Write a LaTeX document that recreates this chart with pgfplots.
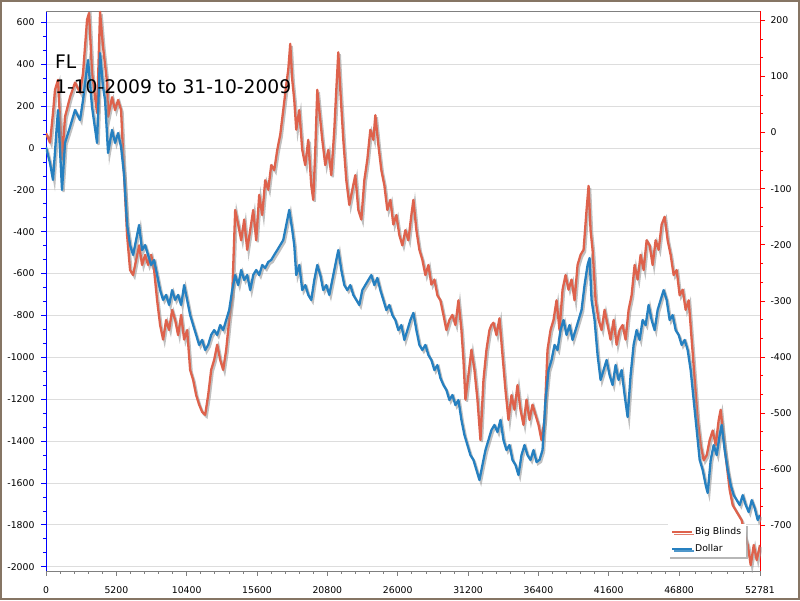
\documentclass[border=0pt]{standalone}
\usepackage{fontspec}
\setmainfont{DejaVu Sans}
\usepackage{pgfplots}
\pgfplotsset{compat=1.18}
\usepackage{pgfplotstable}
\usetikzlibrary{shadows}
\definecolor{bbred}{RGB}{222,98,76}
\definecolor{dblue}{RGB}{38,128,192}
\definecolor{framec}{RGB}{134,117,100}
\definecolor{gridc}{RGB}{221,221,221}
\definecolor{shad}{RGB}{150,150,150}

% Big Blinds (right axis)
\pgfplotstableread{
x y
0 -1
296 -18
518 35
666 76
888 94
1184 -48
1406 28
1776 63
2146 89
2516 71
2738 106
3034 201
3182 213
3404 106
3774 35
3996 215
4218 152
4514 89
4588 28
4884 63
5106 40
5328 58
5550 40
5772 -76
5994 -183
6216 -245
6438 -254
6660 -227
6882 -201
7104 -236
7326 -218
7548 -236
7770 -218
7992 -245
8214 -299
8436 -343
8658 -369
8880 -334
9102 -352
9324 -316
9546 -334
9768 -361
9990 -325
10212 -369
10434 -352
10656 -423
10878 -441
11100 -468
11322 -485
11544 -498
11766 -503
11988 -468
12210 -423
12432 -405
12654 -378
12876 -405
13098 -423
13320 -387
13542 -334
13764 -290
13986 -138
14208 -164
14430 -192
14652 -155
14874 -209
15096 -174
15318 -138
15540 -192
15762 -111
15984 -147
16206 -85
16428 -102
16650 -58
16872 -67
17094 -31
17316 -4
17538 40
17760 85
17908 112
18056 158
18204 94
18352 58
18500 5
18722 40
18944 -31
19166 -58
19388 -13
19610 -94
19758 -120
19906 -31
20054 76
20202 40
20424 -13
20646 -58
20868 -31
21090 -76
21312 5
21460 76
21608 143
21756 76
21978 -13
22200 -85
22422 -129
22644 -102
22866 -76
23088 -138
23310 -155
23532 -85
23754 -48
23976 5
24198 -13
24346 31
24568 -22
24790 -67
25012 -94
25234 -138
25456 -120
25678 -164
25900 -147
26122 -183
26344 -201
26566 -174
26788 -192
27010 -147
27158 -120
27380 -174
27602 -209
27824 -227
28046 -254
28268 -236
28490 -271
28712 -262
28934 -290
29156 -299
29378 -325
29600 -352
29822 -334
30044 -325
30266 -343
30488 -299
30710 -352
30858 -405
31006 -476
31228 -432
31450 -387
31672 -423
31894 -476
32116 -548
32338 -441
32560 -387
32782 -352
32930 -343
33078 -339
33300 -361
33522 -331
33744 -396
33966 -459
34188 -512
34410 -468
34632 -494
34854 -450
35076 -494
35298 -521
35520 -476
35742 -512
35964 -485
36186 -503
36408 -521
36630 -548
36852 -512
37074 -387
37296 -352
37518 -334
37740 -299
37962 -352
38184 -280
38406 -254
38628 -280
38850 -262
39072 -299
39294 -236
39516 -218
39738 -209
39960 -138
40108 -95
40256 -174
40404 -209
40626 -299
40848 -334
41070 -352
41292 -316
41514 -343
41736 -369
41958 -334
42180 -378
42402 -352
42624 -343
42846 -369
43068 -316
43290 -290
43512 -236
43734 -262
43956 -218
44178 -245
44400 -192
44622 -201
44844 -236
45066 -192
45288 -209
45510 -164
45732 -150
45954 -192
46176 -218
46398 -254
46620 -245
46842 -290
47064 -280
47286 -316
47508 -299
47730 -369
47952 -441
48174 -512
48396 -557
48618 -584
48840 -575
49062 -548
49284 -531
49506 -557
49728 -512
49876 -494
50098 -548
50320 -592
50542 -637
50764 -664
50986 -673
51208 -682
51430 -691
51652 -717
51874 -735
52096 -771
52318 -735
52540 -762
52781 -735
}\redtab

% Dollar (left axis)
\pgfplotstableread{
x y
0 4
296 -72
518 -153
814 119
888 181
1184 -201
1406 24
1776 100
2146 181
2516 133
2738 229
3034 386
3108 420
3404 195
3774 24
3996 453
4218 291
4366 229
4588 -24
4884 86
5106 24
5328 71
5550 4
5772 -129
5994 -368
6216 -464
6438 -511
6660 -440
6882 -368
7104 -488
7326 -464
7548 -511
7770 -559
7992 -535
8214 -607
8436 -679
8658 -726
8880 -702
9102 -750
9324 -679
9546 -726
9768 -702
9990 -750
10212 -655
10434 -726
10656 -798
10878 -846
11100 -893
11322 -941
11544 -917
11766 -965
11988 -941
12210 -893
12432 -870
12654 -893
12876 -846
13098 -870
13320 -822
13542 -774
13764 -679
13986 -607
14208 -655
14430 -583
14652 -631
14874 -607
15096 -679
15318 -607
15540 -583
15762 -607
15984 -559
16206 -573
16428 -545
16650 -535
16872 -511
17094 -488
17316 -464
17538 -440
17760 -368
17982 -296
18204 -392
18352 -464
18500 -607
18722 -559
18944 -679
19166 -655
19388 -702
19610 -726
19832 -631
20054 -559
20276 -607
20498 -679
20720 -655
20942 -702
21164 -631
21386 -559
21608 -488
21830 -583
22052 -655
22274 -679
22496 -655
22718 -702
22940 -726
23162 -750
23384 -679
23606 -655
23828 -631
24050 -607
24272 -655
24494 -621
24716 -679
24938 -726
25160 -774
25382 -750
25604 -798
25826 -822
26048 -870
26270 -846
26492 -917
26714 -870
26936 -822
27158 -788
27380 -870
27602 -941
27824 -965
28046 -941
28268 -989
28490 -1013
28712 -1061
28934 -1037
29156 -1099
29378 -1132
29600 -1156
29822 -1204
30044 -1180
30266 -1228
30488 -1204
30710 -1299
30932 -1371
31154 -1419
31376 -1467
31598 -1490
31820 -1538
32042 -1586
32264 -1514
32486 -1443
32708 -1395
32930 -1347
33152 -1323
33374 -1357
33596 -1299
33818 -1395
34040 -1443
34262 -1419
34484 -1490
34706 -1514
34928 -1562
35150 -1467
35372 -1419
35594 -1467
35816 -1490
36038 -1443
36260 -1500
36482 -1490
36704 -1443
36926 -1204
37148 -1061
37370 -1013
37592 -941
37814 -965
38036 -870
38258 -822
38480 -893
38702 -846
38924 -917
39146 -870
39368 -822
39590 -774
39812 -655
40034 -559
40182 -526
40330 -726
40552 -822
40774 -989
40996 -1108
41218 -1061
41440 -1013
41662 -1085
41884 -1132
42106 -1037
42328 -1108
42550 -1061
42772 -1180
42994 -1285
43216 -1085
43438 -941
43660 -870
43882 -917
44104 -822
44326 -846
44548 -750
44770 -822
44992 -870
45214 -774
45436 -726
45658 -679
45880 -726
46102 -822
46324 -798
46546 -870
46768 -893
46990 -941
47212 -917
47434 -965
47656 -1061
47878 -1204
48100 -1347
48322 -1490
48544 -1538
48766 -1610
48914 -1648
49136 -1490
49358 -1419
49580 -1467
49802 -1371
49950 -1323
50172 -1443
50394 -1538
50616 -1610
50838 -1658
51060 -1682
51282 -1705
51504 -1658
51726 -1705
51948 -1739
52170 -1682
52392 -1720
52614 -1777
52781 -1753
}\bluetab

\pgfplotsset{
  mybase/.style={
    scale only axis, width=714pt, height=559.7pt,
    xmin=0, xmax=52781,
    at={(0pt,0pt)}, anchor=south west,
    /pgf/number format/assume math mode=true,
    /pgf/number format/1000 sep={},
    scaled ticks=false,
    tick label style={font=\fontsize{9.3}{11}\selectfont, text=black},
    tick align=outside,
    major tick length=5pt, minor tick length=3pt,
    clip mode=individual,
  },
}

\begin{document}
\begin{tikzpicture}
\fill[white] (-46pt,-29.3pt) rectangle (754pt,570.7pt);
\draw[framec, line width=2pt] (-45pt,-28.3pt) rectangle (753pt,569.7pt);

% Axis 1: left scale, grid, x ticks
\begin{axis}[mybase,
  ymin=-2019, ymax=654,
  axis x line*=bottom, axis y line*=left,
  x axis line style={draw=gray, -},
  y axis line style={draw=blue, line width=0.8pt, -},
  ytick={-2000,-1800,-1600,-1400,-1200,-1000,-800,-600,-400,-200,0,200,400,600},
  minor y tick num=2,
  ytick style={draw=blue, line width=0.7pt},
  xtick={0,5200,10400,15600,20800,26000,31200,36400,41600,46800,52781},
  xticklabels={0,5200,10400,15600,20800,26000,31200,36400,41600,46800,52781},
  minor xtick={1040,2080,3120,4160,6240,7280,8320,9360,11440,12480,13520,14560,16640,17680,18720,19760,21840,22880,23920,24960,27040,28080,29120,30160,32240,33280,34320,35360,37440,38480,39520,40560,42640,43680,44720,45760,47996,49192,50389,51585},
  xtick style={draw=gray, line width=0.7pt},
  ymajorgrids, major grid style={draw=gridc, line width=0.7pt},
  yticklabel style={xshift=-3pt},
  xticklabel style={yshift=-7pt},
]
\draw[gray] (rel axis cs:0,1) -- (rel axis cs:1,1);
\end{axis}

% Axis 2: right scale, Big Blinds
\begin{axis}[mybase,
  ymin=-780.8, ymax=216.6,
  axis y line*=right, axis x line=none,
  y axis line style={draw=red, line width=0.8pt, -},
  ytick={-700,-600,-500,-400,-300,-200,-100,0,100,200},
  minor y tick num=2,
  ytick style={draw=red, line width=0.7pt},
  yticklabel style={xshift=2pt},
]
\addplot[shad, opacity=0.6, line width=2.3pt, xshift=1.5pt, yshift=-2pt, forget plot] table {\redtab};
\addplot[bbred, line width=2.3pt, line join=round] table {\redtab};
\end{axis}

% Axis 3: left scale, Dollar, legend, title
\begin{axis}[mybase,
  ymin=-2019, ymax=654,
  hide axis,
  legend style={at={(rel axis cs:0.871,0.0245)}, anchor=south west,
    draw=none, fill=white, font=\fontsize{9.3}{11}\selectfont,
    drop shadow={shadow xshift=2pt, shadow yshift=-2.5pt, fill=gray!70, opacity=0.8},
    inner xsep=3pt, inner ysep=2pt, row sep=4pt},
  legend cell align=left,
  legend image code/.code={\draw[#1, line width=2pt] (0pt,0pt) -- (20pt,0pt);},
]
\addlegendimage{bbred}
\addlegendentry{Big Blinds}
\addplot[shad, opacity=0.6, line width=2.3pt, xshift=1.5pt, yshift=-2pt, forget plot] table {\bluetab};
\addplot[dblue, line width=2.3pt, line join=round] table {\bluetab};
\addlegendentry{Dollar}
\node[anchor=base west, inner sep=0pt, font=\fontsize{18.7}{22}\selectfont] at (rel axis cs:0.0126,0.8976) {FL};
\node[anchor=base west, inner sep=0pt, font=\fontsize{18.7}{22}\selectfont] at (rel axis cs:0.0126,0.853) {1-10-2009 to 31-10-2009};
\end{axis}
\end{tikzpicture}
\end{document}
